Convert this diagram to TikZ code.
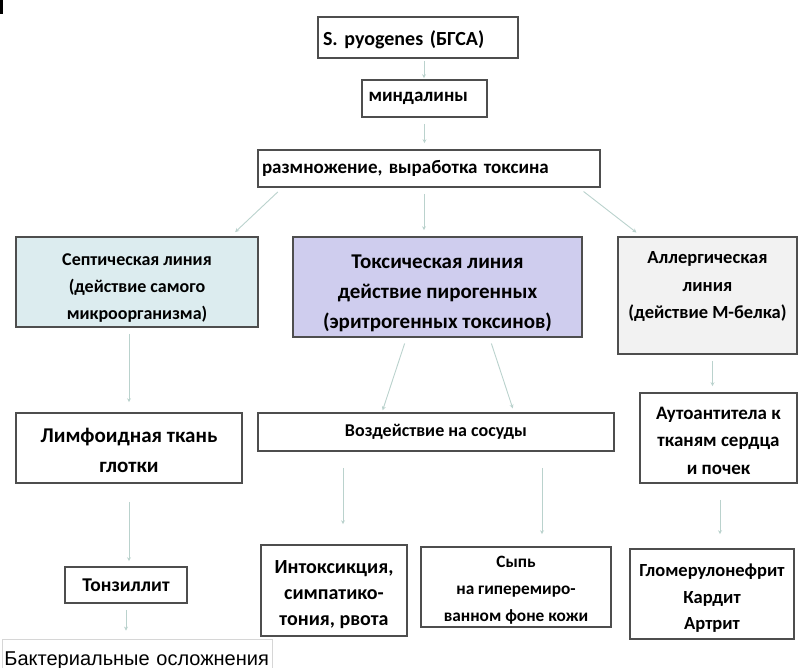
\documentclass[tikz,border=0pt]{standalone}
\usepackage{fontspec}
\setmainfont{Carlito}
\newfontfamily\plainsans{Liberation Sans}
\frenchspacing
\usepackage{xcolor}
\usepackage{tikz}
\usetikzlibrary{positioning, arrows.meta, calc}
\definecolor{framegray}{RGB}{78, 78, 78}
\definecolor{arrowmint}{RGB}{186, 210, 205}
\definecolor{septblue}{RGB}{220, 236, 239}
\definecolor{toxlilac}{RGB}{207, 205, 238}
\definecolor{allergray}{RGB}{242, 242, 242}
\definecolor{faintgray}{RGB}{214, 214, 214}
% invisible struts to sit the text like the slide does
\newcommand{\padtop}[1]{\rule{0pt}{#1}}
\newcommand{\padbot}[1]{\rule[-#1]{0pt}{0pt}}
\tikzset{
  box/.style={draw=framegray, line width=1.6pt, fill=#1, align=center,
              inner sep=4pt, font=\fontsize{18.5}{27}\selectfont\bfseries},
  box/.default=white,
  txt/.style 2 args={font=\fontsize{#1}{#2}\selectfont\bfseries},
  conn/.style={-{Stealth[length=4pt, width=4pt]}, draw=arrowmint, line width=0.9pt,
               shorten <=6pt, shorten >=6pt},
}

\begin{document}
\begin{tikzpicture}[x=1pt, y=-1pt]
  \useasboundingbox (0,0) rectangle (798,668);
  \clip (0,0) rectangle (798,668);
  \fill[black] (0,0) rectangle (3,14);

  % ---- top chain ----
  \node[box, txt={20}{23}, minimum width=200pt, minimum height=41pt, text width=190pt,
        align=left, text height=20pt]
    (src) at (418,37.5) {S. pyogenes (БГСА)};
  \node[box, txt={19}{23}, minimum width=125pt, minimum height=37pt, text width=112pt, align=left]
    (tonsils) at (424.5,98.5) {миндалины};
  \node[box, txt={19}{23}, minimum width=342pt, minimum height=37pt, text width=334pt, align=left]
    (growth) at (429,168.5) {размножение, выработка токсина};

  % ---- three lines ----
  \node[box=septblue, txt={18}{27}, minimum width=242pt, minimum height=90pt]
    (sept) at (137,282) {\padtop{24pt}Септическая линия\\(действие самого\\микроорганизма)};
  \node[box=toxlilac, txt={21}{30}, minimum width=289pt, minimum height=100pt]
    (tox) at (437.5,287) {\padtop{25.5pt}Токсическая линия\\действие пирогенных\\(эритрогенных токсинов)};
  \node[box=allergray, txt={18.5}{27.5}, minimum width=179pt, minimum height=117pt]
    (allerg) at (707.5,295.5) {Аллергическая\\линия\\(действие М-белка)\padbot{20pt}};

  % ---- second level ----
  \node[box, txt={21}{30}, minimum width=226pt, minimum height=70pt]
    (lymph) at (129,448) {\padtop{19pt}Лимфоидная ткань\\глотки};
  \node[box, txt={18}{22}, minimum width=356pt, minimum height=38pt]
    (vessels) at (436,432) {Воздействие на сосуды};
  \node[box, txt={19}{27.5}, minimum width=157pt, minimum height=90pt]
    (autoab) at (718.5,438) {\padtop{18pt}Аутоантитела к\\тканям сердца\\и почек};

  % ---- outcomes ----
  \node[box, txt={19.5}{23}, minimum width=122pt, minimum height=36pt]
    (tonsil) at (126,585) {Тонзиллит};
  \node[box, txt={20}{26}, minimum width=146pt, minimum height=91pt]
    (intox) at (334,590.5) {\padtop{21pt}Интоксикция,\\симпатико-\\тония, рвота};
  \node[box, txt={17.3}{27}, minimum width=190pt, minimum height=80pt, inner ysep=0pt]
    (rash) at (516,587) {\padtop{18pt}Сыпь\\на гиперемиро-\\ванном фоне кожи};
  \node[box, txt={18.5}{26.7}, minimum width=164pt, minimum height=90pt]
    (glomer) at (712,594) {\padtop{21pt}Гломерулонефрит\\Кардит\\Артрит};
  \node[draw=faintgray, line width=0.8pt, font=\plainsans\fontsize{20}{23}\selectfont,
        anchor=base west, inner xsep=2pt, inner ysep=0pt,
        text height=26pt, text depth=20pt, text width=266pt, align=left]
    (bact) at (2,665) {Бактериальные осложнения};

  % ---- arrows ----
  \draw[conn, shorten <=2pt, shorten >=1pt] ([xshift=6pt]src.south) -- ([xshift=6pt]src.south |- tonsils.north);
  \draw[conn] (tonsils.south) -- (tonsils.south |- growth.north);
  \draw[conn] ([xshift=25pt]growth.south west) -- ([xshift=-28pt]sept.north east);
  \draw[conn] ([xshift=-5pt]growth.south) -- ([xshift=-5pt]growth.south |- tox.north);
  \draw[conn] ([xshift=-22pt]growth.south east) -- ([xshift=24pt]allerg.north west);
  \draw[conn, shorten >=10pt] (lymph.north |- sept.south) -- (lymph.north);
  \draw[conn, shorten >=2pt] ([xshift=-31pt]tox.south) -- ([xshift=-54pt]vessels.north);
  \draw[conn, shorten >=4pt] ([xshift=52pt]tox.south) -- ([xshift=78pt]vessels.north);
  \draw[conn] ([xshift=5pt]allerg.south) -- ([xshift=5pt]allerg.south |- autoab.north);
  \draw[conn, shorten <=18pt, shorten >=5pt] (lymph.south) -- (lymph.south |- tonsil.north);
  \draw[conn, shorten <=16pt, shorten >=20pt] ([xshift=9pt]intox.north |- vessels.south) -- ([xshift=9pt]intox.north);
  \draw[conn, shorten <=16pt, shorten >=12pt] ([xshift=26pt]rash.north |- vessels.south) -- ([xshift=26pt]rash.north);
  \draw[conn, shorten <=16pt, shorten >=14pt] ([xshift=8pt]glomer.north |- autoab.south) -- ([xshift=8pt]glomer.north);
  \draw[conn, shorten >=8pt] (tonsil.south) -- (tonsil.south |- bact.north);
\end{tikzpicture}
\end{document}
